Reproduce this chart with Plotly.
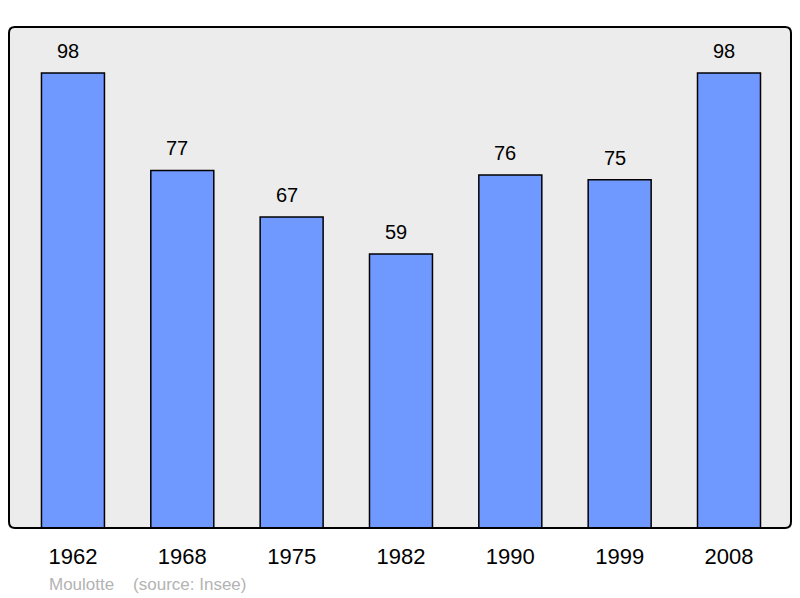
import plotly.graph_objects as go

# Données de population
annees = ["1962", "1968", "1975", "1982", "1990", "1999", "2008"]
population = [98, 77, 67, 59, 76, 75, 98]

fig = go.Figure()

fig.add_trace(go.Bar(
    x=annees,
    y=population,
    width=0.576,
    marker=dict(color="#7099ff", line=dict(color="#000000", width=1.5)),
    hoverinfo="x+y",
))

# Etiquettes des valeurs au-dessus des barres
for i, p in enumerate(population):
    fig.add_annotation(
        x=i, y=p, text=str(p), showarrow=False,
        yanchor="middle", yshift=22, xshift=-5,
        font=dict(family="Liberation Sans, Arial", size=20, color="#000000"),
    )

# Source
fig.add_annotation(
    xref="paper", yref="paper", x=0.049, y=-0.112,
    xanchor="left", yanchor="middle", showarrow=False,
    text="Moulotte    (source: Insee)",
    font=dict(family="Liberation Sans, Arial", size=17, color="#b3b3b3"),
)

# Cadre aux coins arrondis
rx, ry = 6 / 782, 6 / 501
cadre = (f"M {rx},0 L {1-rx},0 Q 1,0 1,{ry} L 1,{1-ry} Q 1,1 {1-rx},1 "
         f"L {rx},1 Q 0,1 0,{1-ry} L 0,{ry} Q 0,0 {rx},0 Z")
fig.add_shape(
    type="path", path=cadre, xref="paper", yref="paper",
    line=dict(color="#000000", width=2), layer="above",
)

fig.update_layout(
    width=800, height=598,
    margin=dict(l=9, r=9, t=27, b=70),
    paper_bgcolor="#ffffff",
    plot_bgcolor="#ececec",
    showlegend=False,
    font=dict(family="Liberation Sans, Arial", color="#000000"),
    xaxis=dict(
        type="category",
        range=[-0.585, 6.567], showgrid=False, zeroline=False,
        ticks="", ticklabelstandoff=13,
        tickfont=dict(size=22, color="#000000"),
    ),
    yaxis=dict(
        range=[0, 107.9], showgrid=False, zeroline=False,
        showticklabels=False, ticks="",
    ),
)

fig.write_html("out.html", config={"displayModeBar": False},
               post_script="document.body.style.margin='0';")
